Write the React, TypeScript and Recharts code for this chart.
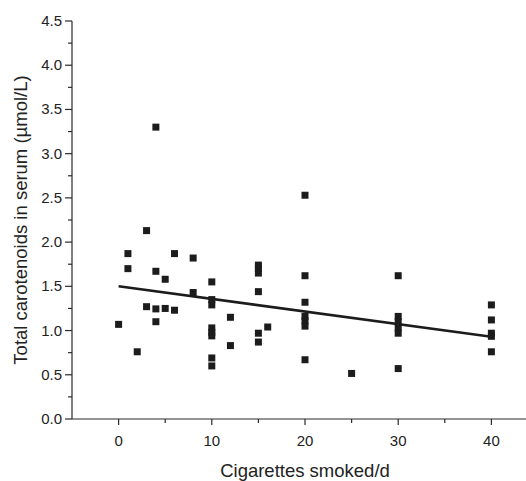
import { ScatterChart, Scatter, XAxis, YAxis, ReferenceLine, Label } from "recharts";

// cigarettes per day and serum total carotenoids (µmol/L)
const cigarettes = [
  0, 1, 1, 2, 3, 3, 4, 4, 4, 4, 5, 5, 6, 6, 8, 8,
  10, 10, 10, 10, 10, 10, 10, 10, 12, 12,
  15, 15, 15, 15, 15, 15, 16,
  20, 20, 20, 20, 20, 20, 20, 25,
  30, 30, 30, 30, 30, 30,
  40, 40, 40, 40, 40,
];
const carotenoids = [
  1.07, 1.87, 1.7, 0.76, 2.13, 1.27, 3.3, 1.67, 1.245, 1.1, 1.58, 1.25, 1.87, 1.23, 1.82, 1.43,
  1.55, 1.35, 1.29, 1.03, 0.98, 0.94, 0.69, 0.6, 1.15, 0.83,
  1.74, 1.7, 1.65, 1.44, 0.97, 0.87, 1.04,
  2.53, 1.62, 1.32, 1.16, 1.11, 1.05, 0.67, 0.515,
  1.62, 1.16, 1.1, 1.03, 0.97, 0.57,
  1.29, 1.12, 0.97, 0.935, 0.76,
];

// regression line end points
const fitX = [0, 40];
const fitY = [1.5, 0.93];

const xTicks = [0, 5, 10, 15, 20, 25, 30, 35, 40];
const yTicks = [0, 0.25, 0.5, 0.75, 1, 1.25, 1.5, 1.75, 2, 2.25, 2.5, 2.75, 3, 3.25, 3.5, 3.75, 4, 4.25, 4.5];

const points = cigarettes.map((x, i) => ({ x, y: carotenoids[i] }));

const ink = "#1c1c1c";
const axisColor = "#2a2a2a";
const font = "'Liberation Sans', Arial, Helvetica, sans-serif";

const XTick = (props: any) => {
  const { x, y, payload } = props;
  const major = payload.value % 10 === 0;
  return (
    <g>
      <line x1={x} y1={y} x2={x} y2={y + (major ? 6 : 4)} stroke={axisColor} strokeWidth={1.2} />
      {major && (
        <text x={x} y={y + 27} textAnchor="middle" fontSize={15} fontFamily={font} fill="#222">
          {payload.value}
        </text>
      )}
    </g>
  );
};

const YTick = (props: any) => {
  const { x, y, payload } = props;
  const v = payload.value;
  const major = Math.abs(v * 2 - Math.round(v * 2)) < 1e-6;
  return (
    <g>
      <line x1={x} y1={y} x2={x - (major ? 7 : 4)} y2={y} stroke={axisColor} strokeWidth={1.2} />
      {major && (
        <text x={x - 10} y={y + 5} textAnchor="end" fontSize={15} fontFamily={font} fill="#222">
          {v.toFixed(1)}
        </text>
      )}
    </g>
  );
};

const SquareDot = (props: any) => {
  const { cx, cy } = props;
  return <rect x={cx - 3.5} y={cy - 3.5} width={7} height={7} fill={ink} />;
};

export default function App() {
  return (
    <div
      style={{
        position: "absolute",
        left: 0,
        top: 0,
        width: 526,
        height: 481,
        overflow: "hidden",
        background: "#fff",
      }}
    >
      <ScatterChart width={538} height={481} margin={{ top: 21, right: 0, bottom: 0, left: 0 }}>
        <XAxis
          type="number"
          dataKey="x"
          domain={[-5, 45]}
          ticks={xTicks}
          interval={0}
          tickSize={0}
          tickMargin={0}
          tick={<XTick />}
          height={62}
          stroke={axisColor}
          strokeWidth={1.2}
          allowDataOverflow
        >
          <Label
            value="Cigarettes smoked/d"
            position="insideBottom"
            offset={4}
            fontSize={18.5}
            fontFamily={font}
            fill="#222"
          />
        </XAxis>
        <YAxis
          type="number"
          dataKey="y"
          domain={[0, 4.5]}
          ticks={yTicks}
          interval={0}
          tickSize={0}
          tickMargin={0}
          tick={<YTick />}
          width={72}
          stroke={axisColor}
          strokeWidth={1.2}
          allowDataOverflow
        >
          <Label
            value="Total carotenoids in serum (µmol/L)"
            angle={-90}
            position="center"
            dx={-16}
            fontSize={18.5}
            fontFamily={font}
            fill="#222"
          />
        </YAxis>
        <Scatter data={points} shape={<SquareDot />} isAnimationActive={false} />
        <ReferenceLine
          segment={[
            { x: fitX[0], y: fitY[0] },
            { x: fitX[1], y: fitY[1] },
          ]}
          stroke={ink}
          strokeWidth={2.6}
        />
      </ScatterChart>
    </div>
  );
}
